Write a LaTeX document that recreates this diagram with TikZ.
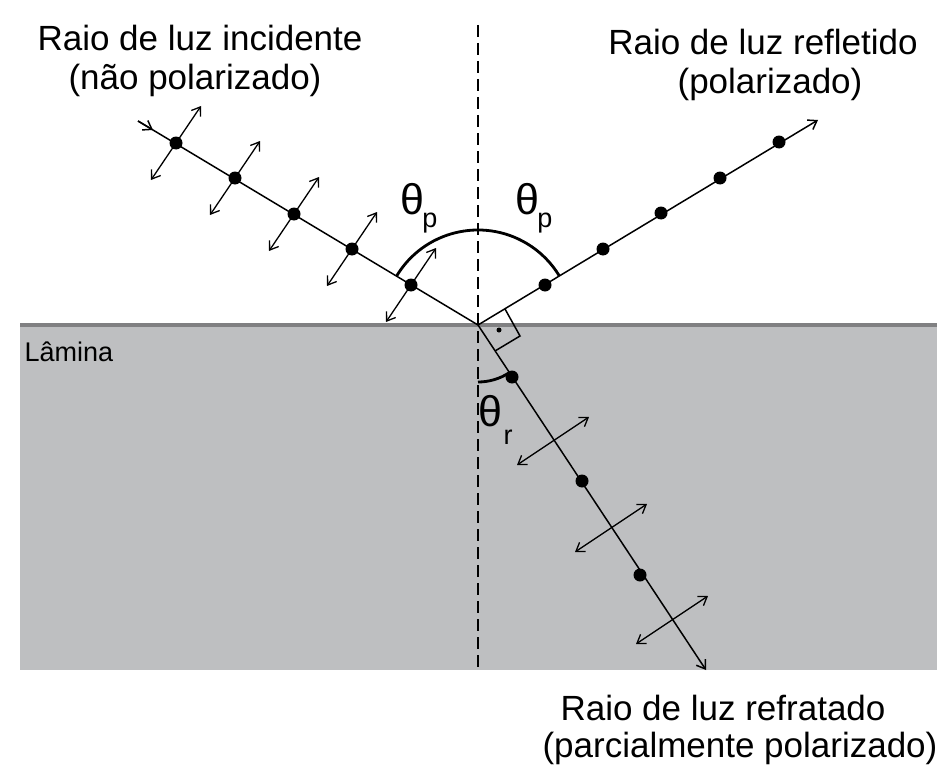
\documentclass[tikz,border=0pt]{standalone}
\usepackage{fontspec}
\setmainfont{Liberation Sans}
\usetikzlibrary{arrows.meta}
\definecolor{slab}{RGB}{190,191,193}
\definecolor{slabedge}{RGB}{128,128,130}
\begin{document}
\begin{tikzpicture}[x=1pt,y=-1pt,
  >={Straight Barb[length=8pt,width=11pt]},
  ray/.style={line width=1.5pt},
  pol/.style={line width=1.3pt,<->},
  dot/.style={circle,fill=black,inner sep=0pt,minimum size=13pt},
  big/.style={font=\fontsize{35}{40}\selectfont},
  th/.style={font=\fontsize{43}{46}\selectfont},
  sub/.style={font=\fontsize{27}{30}\selectfont},
  arcs/.style={line width=2.8pt}]
\useasboundingbox (0,0) rectangle (946,784);
\fill[slab] (20,325) rectangle (937,670);
\draw[slabedge,line width=4.5pt] (20,325) -- (937,325);
\node[anchor=west,font=\fontsize{27}{30}\selectfont] (lam) at (21,352) {Lâmina};
\coordinate (O) at (478,325);
\draw[line width=2.4pt,dash pattern=on 12pt off 6pt] (478,25) -- (478,670);
% incident
\coordinate (I0) at (138,121);
\draw[ray] (I0) -- (O);
\draw[ray,->] (I0) -- (153,130);
\foreach \x/\y in {176/143,235/178,294/214,352/249,411/285}{
  \draw[pol] (\x-25,\y+37) -- (\x+25,\y-37);
  \node[dot] at (\x,\y) {};
}
% reflected
\coordinate (R1) at (818,120);
\draw[ray,->] (O) -- (R1);
\foreach \x/\y in {545/285,603/249,661/213,720/178,779/142}{
  \node[dot] at (\x,\y) {};
}
% refracted
\coordinate (T1) at (706,670);
\draw[ray,->] (O) -- (T1);
\foreach \x/\y in {512/377,582/481,640/575}{
  \node[dot] at (\x,\y) {};
}
\foreach \x/\y in {553/441,611/528,672/620}{
  \draw[pol] (\x-36,\y+24) -- (\x+36,\y-24);
}
% right angle
\draw[line width=1.5pt] (505,309) -- (520,336) -- (495,351);
\node[circle,fill=black,inner sep=0pt,minimum size=5pt] (ra) at (499,330) {};
% angle arcs
\draw[arcs] (O) ++(-149:95) arc[start angle=-149,end angle=-31,radius=95];
\draw[arcs] (O) ++(90:57) arc[start angle=90,end angle=57,radius=57];
\node[th] (t1) at (412,199) {θ};
\node[sub] (p1) at (430,223) {p};
\node[th] (t2) at (527,199) {θ};
\node[sub] (p2) at (545,223) {p};
\node[th] (t3) at (490,411) {θ};
\node[sub] (r3) at (508,437) {r};
% labels
\node[big] (a1) at (200,38) {Raio de luz incidente};
\node[big] (a2) at (195,80) {(não polarizado)};
\node[big] (b1) at (763,42) {Raio de luz refletido};
\node[big] (b2) at (770,84) {(polarizado)};
\node[big] (c1) at (723,708) {Raio de luz refratado};
\node[big] (c2) at (740,748) {(parcialmente polarizado)};
\end{tikzpicture}
\end{document}
